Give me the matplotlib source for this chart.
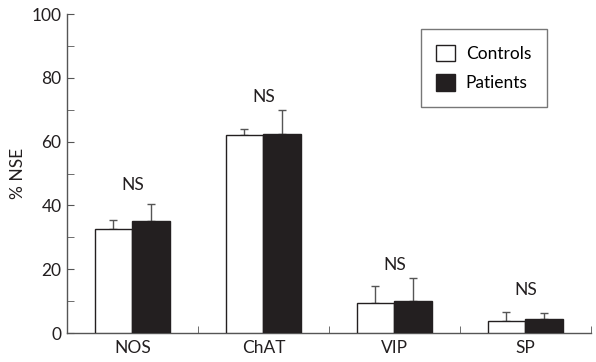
import numpy as np
import matplotlib
matplotlib.use("Agg")
import matplotlib.pyplot as plt

categories = ["NOS", "ChAT", "VIP", "SP"]
controls = [32.6, 62.0, 9.3, 3.8]
controls_err = [2.8, 2.0, 5.5, 2.7]
patients = [35.1, 62.3, 10.1, 4.4]
patients_err = [5.3, 7.6, 7.0, 2.0]
sig_labels = ["NS", "NS", "NS", "NS"]
sig_heights = [46.4, 74.0, 21.3, 13.5]

plt.rcParams["font.family"] = ["Lato", "DejaVu Sans"]
ink = "#231f20"
fs = 12.5

fig = plt.figure(figsize=(5.96, 3.62), dpi=100)
ax = fig.add_axes([0.1124, 0.0801, 0.8792, 0.8812])

x = np.arange(len(categories)) + 0.5
w = 0.29

ax.bar(x - w / 2, controls, w, color="white", edgecolor=ink, linewidth=1.0,
       label="Controls", zorder=3)
ax.bar(x + w / 2, patients, w, color=ink, edgecolor=ink, linewidth=1.0,
       label="Patients", zorder=3)

ax.errorbar(x - w / 2, controls, yerr=[np.zeros(4), controls_err], fmt="none",
            ecolor="#555555", elinewidth=1.0, capsize=3, capthick=1.0, zorder=2)
ax.errorbar(x + w / 2, patients, yerr=[np.zeros(4), patients_err], fmt="none",
            ecolor="#555555", elinewidth=1.0, capsize=3, capthick=1.0, zorder=2)

# significance labels above each group
for xi, h, s in zip(x, sig_heights, sig_labels):
    ax.text(xi, h, s, ha="center", va="center", fontsize=fs, color=ink)

ax.set_xlim(0, 4)
ax.set_ylim(0, 100)
ax.set_yticks(range(0, 101, 20))
ax.set_yticks(range(10, 100, 20), minor=True)
ax.set_xticks(x)
ax.set_xticklabels(categories)
ax.set_xticks([1, 2, 3, 4], minor=True)
ax.tick_params(axis="x", which="major", length=0, pad=5, labelsize=fs, colors=ink)
ax.tick_params(axis="x", which="minor", direction="in", length=5, color="#555555")
ax.tick_params(axis="y", which="both", direction="in", length=5, color="#555555",
               labelsize=fs, labelcolor=ink, pad=4)

for side in ["top", "right"]:
    ax.spines[side].set_visible(False)
for side in ["left", "bottom"]:
    ax.spines[side].set_color("#555555")
    ax.spines[side].set_linewidth(1.0)

ax.set_ylabel("% NSE", fontsize=fs, color=ink, labelpad=4)

leg = ax.legend(loc="upper right", bbox_to_anchor=(0.932, 0.98), fontsize=fs,
                frameon=True, fancybox=False, edgecolor="#555555",
                handlelength=1.1, handleheight=1.1, borderpad=0.9,
                labelspacing=0.7, handletextpad=0.6)
leg.get_frame().set_linewidth(1.0)

fig.savefig("out.png", dpi=100)
